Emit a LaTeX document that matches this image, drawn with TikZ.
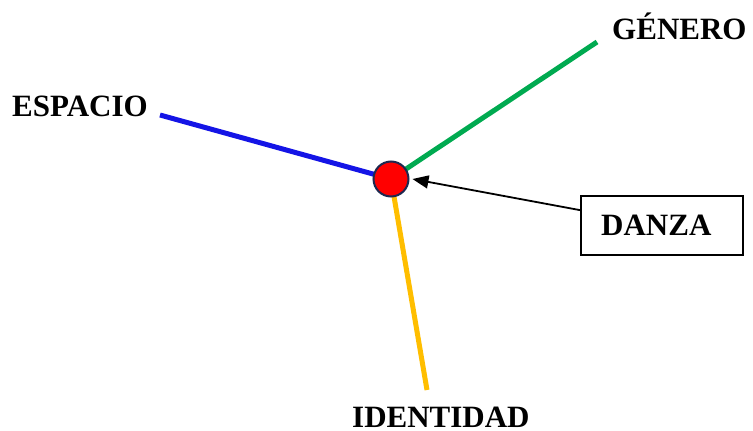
\documentclass[tikz,border=0pt]{standalone}
\usepackage{fontspec}
\setmainfont{Liberation Serif}
\usetikzlibrary{arrows.meta,backgrounds,calc}
\definecolor{cblue}{RGB}{20,20,230}
\definecolor{cgreen}{RGB}{0,170,80}
\definecolor{corange}{RGB}{255,190,0}
\definecolor{cnavy}{RGB}{30,40,80}
\tikzset{
  lbl/.style={font=\fontsize{31}{34}\selectfont\bfseries, inner sep=0pt, anchor=base west},
  spoke/.style={line width=5pt},
  hub/.style={circle, fill=red, draw=cnavy, line width=2pt, minimum size=35pt, inner sep=0pt},
  boxed/.style={draw=black, line width=1.5pt, minimum width=162pt, minimum height=59pt, anchor=north west},
}
\begin{document}
\begin{tikzpicture}[x=1pt,y=-1pt]
\useasboundingbox (0,0) rectangle (753,431);
\node[hub] (c) at (391,179) {};
\coordinate (pe) at (160,115);
\coordinate (pg) at (597,42);
\coordinate (pi) at (427,390);
\node[lbl] (espacio) at (12,116) {ESPACIO};
\node[lbl] (genero) at (612,39) {GÉNERO};
\node[lbl] (identidad) at (352,427) {IDENTIDAD};
\node[boxed] (box) at (580,195) {};
\node[lbl] (danza) at (601,235) {DANZA};
\begin{scope}[on background layer]
\draw[spoke, cblue] (pe) -- (c.center);
\draw[spoke, cgreen] (pg) -- (c.center);
\draw[spoke, corange] (pi) -- (c.center);
\end{scope}
\draw[line width=1.8pt, -{Triangle[length=16pt,width=13pt]}] ($(box.north west)!0.25!(box.south west)$) -- ([xshift=3pt]c.east);
\end{tikzpicture}
\end{document}
